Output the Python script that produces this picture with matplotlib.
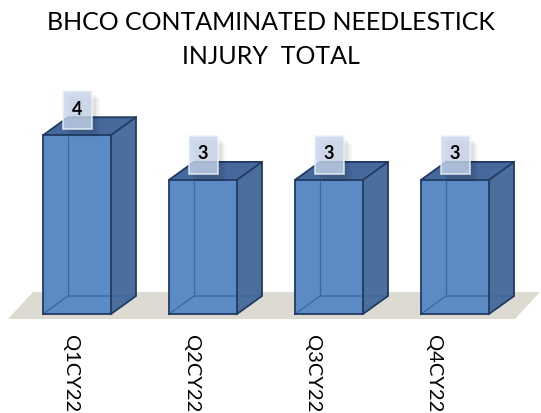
import matplotlib
matplotlib.use('Agg')
import numpy as np
import matplotlib.pyplot as plt
from matplotlib.patches import Polygon, Rectangle

categories = ['Q1CY22', 'Q2CY22', 'Q3CY22', 'Q4CY22']
values = [4, 3, 3, 3]
title_lines = ['BHCO CONTAMINATED NEEDLESTICK', 'INJURY  TOTAL']

W, H = 541, 413
fig = plt.figure(figsize=(W / 100, H / 100), dpi=100)
ax = fig.add_axes([0, 0, 1, 1])

# layout in pixels, turned into data units
step = 126.0    # px between bars
unit = 44.7     # px per value unit
x0 = 77.0       # centre of first bar
base = 314.0    # baseline, px from top
ax.set_xlim(-x0 / step, (W - x0) / step)
ax.set_ylim(-(H - base) / unit, base / unit)
ax.axis('off')

bw = 68 / step
dx = 25 / step
dy = 18 / unit

front_c = '#5B8AC5'
side_c = '#4C6E9C'
top_c = '#47689A'
edge_c = '#1F3B63'
font = ['Lato', 'DejaVu Sans']

# floor
n = len(values)
fl = (8 - x0) / step
fr = n - 1 + (515 - x0 - 3 * step) / step
f0 = -5 / unit
f1 = 22 / unit
fdx = 25 / step
ax.add_patch(Polygon([(fl, f0), (fr, f0), (fr + fdx, f1), (fl + fdx, f1)],
                     closed=True, facecolor='#DDDAD2', edgecolor='none', zorder=1))

for i, v in enumerate(values):
    xl = i - bw / 2
    xr = i + bw / 2
    # faces
    ax.add_patch(Rectangle((xl, 0), bw, v, facecolor=front_c, edgecolor='none', zorder=3))
    ax.add_patch(Polygon([(xr, 0), (xr + dx, dy), (xr + dx, v + dy), (xr, v)],
                         closed=True, facecolor=side_c, edgecolor='none', zorder=3))
    ax.add_patch(Polygon([(xl, v), (xr, v), (xr + dx, v + dy), (xl + dx, v + dy)],
                         closed=True, facecolor=top_c, edgecolor='none', zorder=3))
    # hidden edges seen through the glassy box
    ax.plot([xl, xl + dx, xr + dx], [0, dy, dy], color='#3A679F', lw=0.9, zorder=4)
    ax.plot([xl + dx, xl + dx], [dy, v + dy], color='#3A679F', lw=0.9, zorder=4)
    # outer edges
    ax.plot([xl, xr, xr, xl, xl], [0, 0, v, v, 0], color=edge_c, lw=1.3, zorder=5)
    ax.plot([xr, xr + dx, xr + dx, xr], [0, dy, v + dy, v], color=edge_c, lw=1.3, zorder=5)
    ax.plot([xl, xl + dx, xr + dx], [v, v + dy, v + dy], color=edge_c, lw=1.3, zorder=5)

    # value label box with soft shadow
    bx = 29 / step
    by = 38 / unit
    yc = v + 25 / unit
    for k, a in zip([8, 6, 4], [0.03, 0.04, 0.05]):
        ax.add_patch(Rectangle((i - bx / 2 + k / step, yc - by / 2 - k / unit), bx, by,
                               facecolor='black', edgecolor='none', alpha=a, zorder=6))
    ax.add_patch(Rectangle((i - bx / 2, yc - by / 2), bx, by, facecolor='#C6D5EA',
                           edgecolor='#EEF3FA', lw=1.2, alpha=0.8, zorder=7))
    ax.text(i, yc + 1 / unit, str(v), ha='center', va='center', fontsize=13,
            fontweight='bold', color='black', family=font, zorder=8)

# category labels, rotated
lab_x0 = (70 - x0) / step
lab_step = 121.3 / step
for i, c in enumerate(categories):
    ax.text(lab_x0 + i * lab_step, (base - 335) / unit, c, rotation=270,
            ha='center', va='top', fontsize=14.5, color='black', family=font, zorder=8)

fig.text(0.5, 1 - 22 / H, title_lines[0], ha='center', va='center', fontsize=18,
         color='black', family=font)
fig.text(0.5, 1 - 57 / H, title_lines[1], ha='center', va='center', fontsize=18,
         color='black', family=font)

fig.savefig('out.png', dpi=100)
